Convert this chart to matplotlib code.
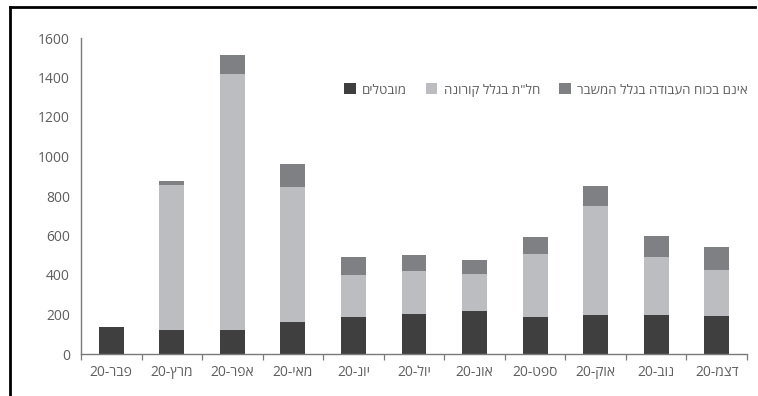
import matplotlib
matplotlib.use("Agg")
import matplotlib.pyplot as plt
from matplotlib.lines import Line2D
import numpy as np

plt.rcParams['font.family'] = ['Open Sans', 'DejaVu Sans']

# חודשים (2020) ונתונים באלפים
months = ["פבר", "מרץ", "אפר", "מאי", "יונ", "יול", "אונ", "ספט", "אוק", "נוב", "דצמ"]
year = "20"
unemployed = [135, 123, 123, 161, 186, 205, 217, 186, 195, 200, 191]
furlough = [0, 731, 1293, 683, 213, 215, 188, 320, 553, 291, 235]
out_of_force = [0, 24, 97, 117, 92, 81, 72, 88, 101, 108, 116]

series_names = ["מובטלים", "חל\"ת בגלל קורונה", "אינם בכוח העבודה בגלל המשבר"]
colors = ["#3f3f3f", "#bcbdc0", "#7f8083"]
yticks = [0, 200, 400, 600, 800, 1000, 1200, 1400, 1600]

TEXT = "#5e5e5e"
AXIS = "#7a7a7a"


def visual(s):
    # matplotlib אינו מטפל בכיווניות - הופכים ידנית את הטקסט העברי
    return s[::-1]


fig = plt.figure(figsize=(7.58, 3.96), dpi=100)
ax = fig.add_axes([81 / 758, 42 / 396, (747 - 81) / 758, (354 - 38) / 396])

x = np.arange(len(months))
w = 0.41
b1 = np.array(unemployed)
b2 = b1 + np.array(furlough)
ax.bar(x, unemployed, w, color=colors[0], label=visual(series_names[0]))
ax.bar(x, furlough, w, bottom=b1, color=colors[1], label=visual(series_names[1]))
ax.bar(x, out_of_force, w, bottom=b2, color=colors[2], label=visual(series_names[2]))

ax.set_xlim(-0.5, len(months) - 0.5)
ax.set_ylim(0, 1600)
ax.set_yticks(yticks)
ax.set_yticklabels([str(v) for v in yticks], color=TEXT, fontsize=10)
ax.tick_params(axis='y', length=0, pad=8)

ax.set_xticks(x)
ax.set_xticklabels([year + "-" + visual(m) for m in months], color=TEXT, fontsize=10)
ax.set_xticks(np.arange(-0.5, len(months)), minor=True)
ax.tick_params(axis='x', which='major', length=0, pad=8)
ax.tick_params(axis='x', which='minor', length=4, color=AXIS, width=0.9)

for side in ["top", "right"]:
    ax.spines[side].set_visible(False)
for side in ["left", "bottom"]:
    ax.spines[side].set_color(AXIS)
    ax.spines[side].set_linewidth(1.0)

# מקרא בשורה אחת מעל העמודות
fig.legend(loc='center right', bbox_to_anchor=(760 / 758, 1 - 90 / 396), ncol=3,
           frameon=False, fontsize=9.5, labelcolor=TEXT, handlelength=0.9,
           handleheight=0.9, handletextpad=0.5, columnspacing=1.4)

# מסגרת חלקית - קו עליון וקו שמאלי
fig.add_artist(Line2D([10 / 758, 755 / 758], [1 - 7 / 396, 1 - 7 / 396], color="black", lw=2, transform=fig.transFigure))
fig.add_artist(Line2D([10 / 758, 10 / 758], [0, 1 - 7 / 396], color="black", lw=2, transform=fig.transFigure))

fig.savefig("out.png", dpi=100)
